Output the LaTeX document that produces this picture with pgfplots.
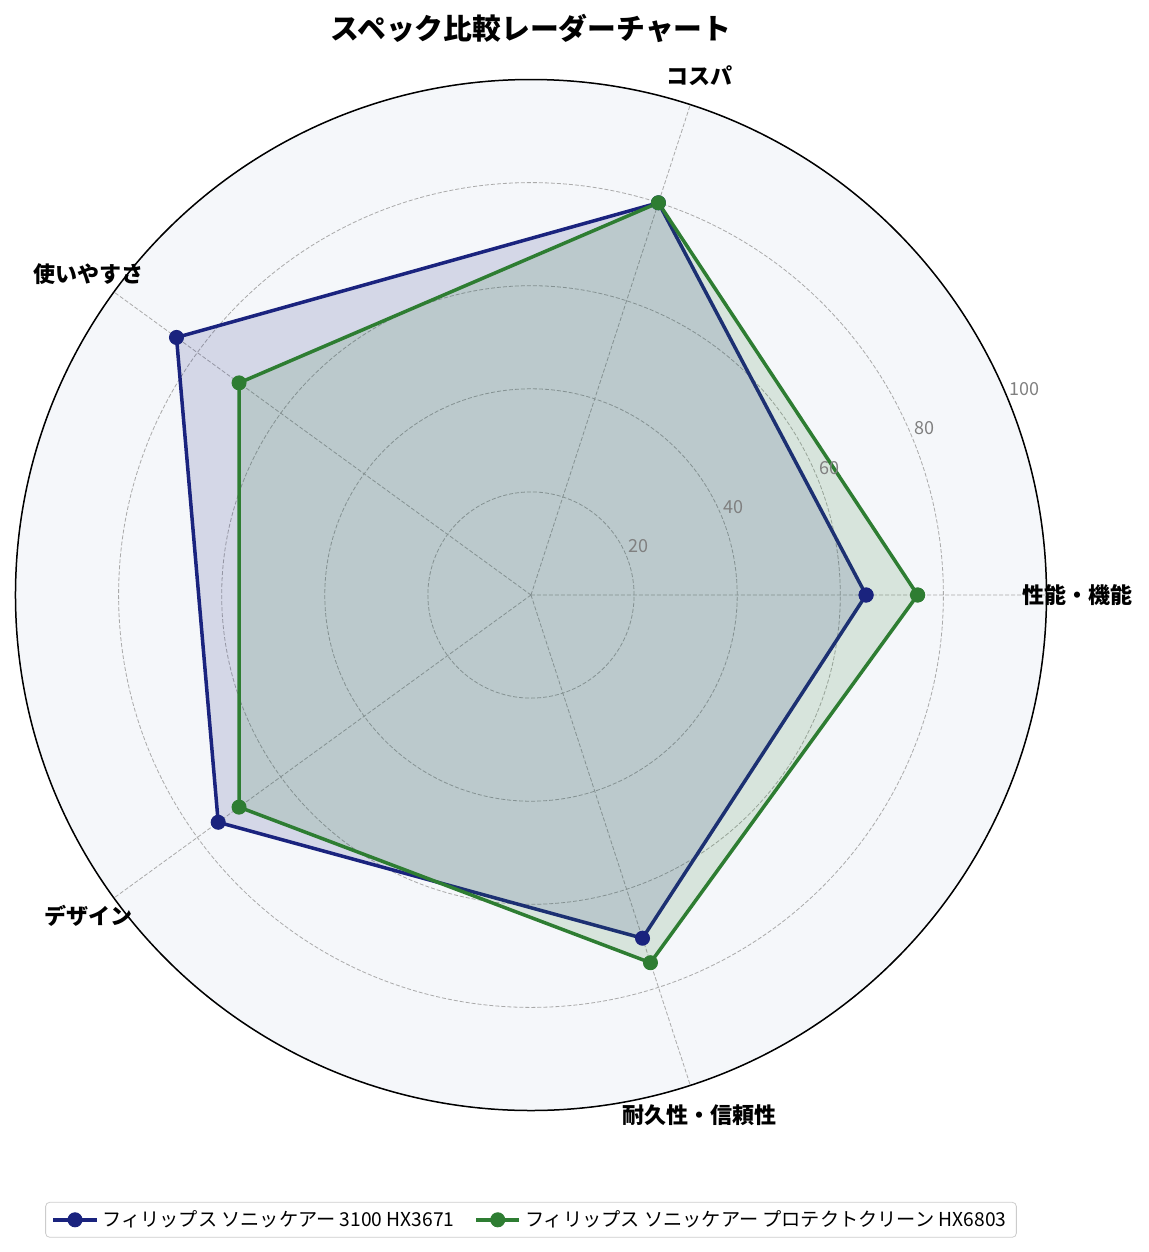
\documentclass[border=0pt]{standalone}
\usepackage{fontspec}
\setmainfont{Noto Sans CJK JP}
\usepackage{pgfplots}
\pgfplotsset{compat=1.18}
\usepgfplotslibrary{polar}

\definecolor{navyline}{HTML}{1A237E}
\definecolor{greenline}{HTML}{2E7D32}
\definecolor{panelbg}{HTML}{F5F7FA}
\definecolor{gridgray}{HTML}{AAAAAA}
\definecolor{ticktext}{HTML}{808080}

\begin{document}
\begin{tikzpicture}
\begin{polaraxis}[
    at={(0,0)}, anchor=origin,
    scale only axis,
    width=515.5pt, height=515.5pt,
    clip=false,
    ymin=0, ymax=100,
    xtick={0,72,144,216,288},
    xticklabels={},
    ytick={20,40,60,80,100},
    yticklabels={},
    major tick length=0pt,
    xmajorgrids, ymajorgrids,
    major grid style={gridgray, line width=0.4pt, dash pattern=on 2pt off 1pt},
    x axis line style={black, line width=0.75pt},
    y axis line style={draw=none},
    axis background/.style={fill=panelbg},
    legend columns=2,
    legend style={
        at={(0.5,-0.106)}, anchor=center,
        draw=gray!40, rounded corners=2pt,
        font=\fontsize{9.6}{11}\selectfont,
        /tikz/every even column/.append style={column sep=8pt},
        inner ysep=2pt, inner xsep=3pt,
    },
    legend image code/.code={
        \draw[mark repeat=2, mark phase=2]
            plot coordinates {(0cm,0cm) (0.38cm,0cm) (0.76cm,0cm)};
    },
    legend cell align=left,
]
    \addplot[navyline, line width=1.75pt, fill=navyline, fill opacity=0.15,
        mark=*, mark size=3.5pt,
        mark options={fill=navyline, fill opacity=1, line width=0.5pt}]
        coordinates {(0,65) (72,80) (144,85) (216,75) (288,70) (360,65)};
    \addlegendentry{フィリップス ソニッケアー 3100 HX3671}

    \addplot[greenline, line width=1.75pt, fill=greenline, fill opacity=0.15,
        mark=*, mark size=3.5pt,
        mark options={fill=greenline, fill opacity=1, line width=0.5pt}]
        coordinates {(0,75) (72,80) (144,70) (216,70) (288,75) (360,75)};
    \addlegendentry{フィリップス ソニッケアー プロテクトクリーン HX6803}

    % radial tick labels
    \pgfplotsinvokeforeach{20,40,60,80,100}{
        \node[anchor=south west, inner sep=1pt, text=ticktext,
              font=\fontsize{9}{10}\selectfont]
            at (axis cs:22.5,#1) {#1};
    }

    % category labels
    \node[font=\bfseries\fontsize{11}{12}\selectfont] at (axis cs:0,106) {性能・機能};
    \node[font=\bfseries\fontsize{11}{12}\selectfont] at (axis cs:72,106) {コスパ};
    \node[font=\bfseries\fontsize{11}{12}\selectfont] at (axis cs:144,106) {使いやすさ};
    \node[font=\bfseries\fontsize{11}{12}\selectfont] at (axis cs:216,106) {デザイン};
    \node[font=\bfseries\fontsize{11}{12}\selectfont] at (axis cs:288,106) {耐久性・信頼性};
\end{polaraxis}

\node[font=\bfseries\fontsize{14.4}{16}\selectfont] at (0,283.5pt) {スペック比較レーダーチャート};

\path[use as bounding box] (-265.5pt,-328.5pt) rectangle (308.5pt,297.5pt);
\end{tikzpicture}
\end{document}
